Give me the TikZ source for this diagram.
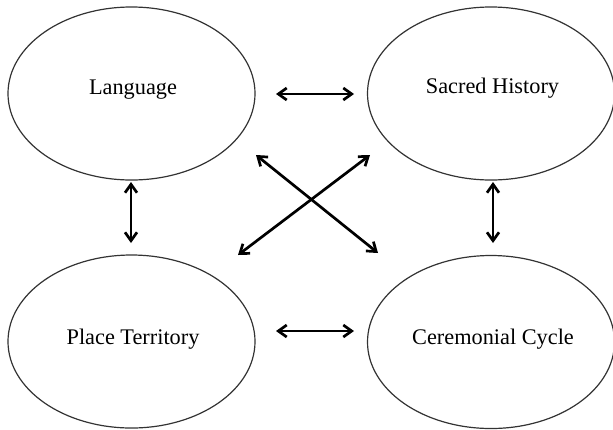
\documentclass[tikz,border=0pt]{standalone}
\usepackage{fontspec}
\setmainfont{Liberation Serif}
\usetikzlibrary{shapes.geometric,arrows.meta}
\begin{document}
\begin{tikzpicture}[x=0.5pt,y=-0.5pt,
  blob/.style={draw=black!80,line width=0.6pt,ellipse,minimum width=123.5pt,minimum height=86.5pt,inner sep=0pt},
  lbl/.style={anchor=base,font=\fontsize{11.15pt}{13pt}\selectfont,inner sep=0pt},
  link/.style={line width=1.35pt,{Straight Barb[length=4.2pt,width=6pt]}-{Straight Barb[length=4.2pt,width=6pt]}}]
\useasboundingbox (0,0) rectangle (613,429);
\node[blob] (lang) at (131.5,93.5) {};
\node[blob] (sacr) at (491,93.5) {};
\node[blob] (plac) at (131.5,341.5) {};
\node[blob] (cere) at (491,342) {};
\node[lbl] (langt) at (133,94) {Language};
\node[lbl] (sacrt) at (492.5,93.5) {Sacred History};
\node[lbl] (plact) at (133,344.5) {Place Territory};
\node[lbl] (ceret) at (493,344) {Ceremonial Cycle};
% connector ends
\coordinate (h1a) at (276,94);  \coordinate (h1b) at (354,94);
\coordinate (h2a) at (276,331); \coordinate (h2b) at (354,331);
\coordinate (v1a) at (131,182); \coordinate (v1b) at (131,243);
\coordinate (v2a) at (493,182); \coordinate (v2b) at (493,243);
\coordinate (d1a) at (256,155); \coordinate (d1b) at (378,253);
\coordinate (d2a) at (370,155); \coordinate (d2b) at (238,255);
\draw[link] (h1a) -- (h1b);
\draw[link] (h2a) -- (h2b);
\draw[link] (v1a) -- (v1b);
\draw[link] (v2a) -- (v2b);
\draw[link] (d1a) -- (d1b);
\draw[link] (d2a) -- (d2b);
\end{tikzpicture}
\end{document}
